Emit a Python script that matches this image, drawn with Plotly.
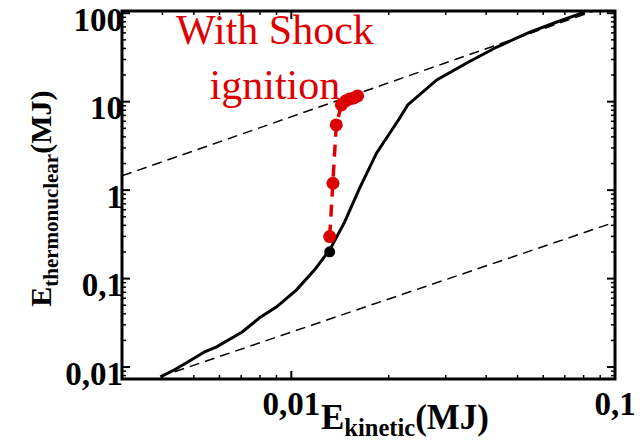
import plotly.graph_objects as go

# ---- data (MJ) ----
e_kin_curve = [0.00394, 0.00436, 0.00492, 0.00540, 0.00588, 0.00707, 0.00798, 0.00901,
               0.01038, 0.01180, 0.01314, 0.01462, 0.01627, 0.01835, 0.02163, 0.02289,
               0.02814, 0.03484, 0.04315, 0.05458, 0.06615, 0.08075]
e_th_curve = [0.00776, 0.00931, 0.01208, 0.01489, 0.01695, 0.02506, 0.03607, 0.04799,
              0.07464, 0.1256, 0.2113, 0.4377, 1.060, 2.634, 6.544, 9.18,
              17.59, 27.36, 41.48, 61.28, 79.5, 103.1]

no_shock_x = [0.01314]
no_shock_y = [0.2006]

shock_x = [0.01314, 0.01345, 0.01377, 0.01428, 0.01472, 0.01515, 0.01559, 0.01603]
shock_y = [0.2987, 1.197, 5.455, 9.18, 10.18, 10.73, 11.01, 11.6]

upper_guide_x = [0.003, 0.1]
upper_guide_y = [1.45, 128.0]
lower_guide_x = [0.00436, 0.1]
lower_guide_y = [0.00885, 0.435]

x_tick_vals = [0.01, 0.1]
x_tick_text = ["0,01", "0,1"]
y_tick_vals = [0.01, 0.1, 1, 10, 100]
y_tick_text = ["0,01", "0,1", "1", "10", "100"]
x_minor_vals = [0.003, 0.004, 0.005, 0.006, 0.007, 0.008, 0.009,
                0.02, 0.03, 0.04, 0.05, 0.06, 0.07, 0.08, 0.09]
y_minor_vals = [0.008, 0.009,
                0.02, 0.03, 0.04, 0.05, 0.06, 0.07, 0.08, 0.09,
                0.2, 0.3, 0.4, 0.5, 0.6, 0.7, 0.8, 0.9,
                2, 3, 4, 5, 6, 7, 8, 9,
                20, 30, 40, 50, 60, 70, 80, 90]

RED = "#dd0000"
W, H = 643, 444
M = dict(l=122, r=28, t=11, b=65)
PLOT_W = W - M["l"] - M["r"]
PLOT_H = H - M["t"] - M["b"]

fig = go.Figure()
fig.add_trace(go.Scatter(x=upper_guide_x, y=upper_guide_y, mode="lines",
                         line=dict(color="black", width=1.5, dash="10px,6px")))
fig.add_trace(go.Scatter(x=lower_guide_x, y=lower_guide_y, mode="lines",
                         line=dict(color="black", width=1.5, dash="10px,6px")))
fig.add_trace(go.Scatter(x=e_kin_curve, y=e_th_curve, mode="lines",
                         line=dict(color="black", width=3)))
fig.add_trace(go.Scatter(x=no_shock_x, y=no_shock_y, mode="markers",
                         marker=dict(color="black", size=11)))
fig.add_trace(go.Scatter(x=shock_x, y=shock_y, mode="lines+markers",
                         line=dict(color=RED, width=3.5, dash="12px,8px"),
                         marker=dict(color=RED, size=13)))

axis_common = dict(
    type="log", showline=False, ticks="", showgrid=False, zeroline=False,
    ticklabeloverflow="allow", automargin=False, tickmode="array",
    tickfont=dict(family="Liberation Serif", size=33, color="black", weight="bold"),
)

fig.update_layout(
    width=W, height=H, margin=M,
    paper_bgcolor="white", plot_bgcolor="white", showlegend=False,
    xaxis=dict(**axis_common, range=[-2.523, -1.0],
               tickvals=x_tick_vals, ticktext=x_tick_text, ticklabelstandoff=2),
    yaxis=dict(**axis_common, range=[-2.135, 2.025],
               tickvals=y_tick_vals, ticktext=y_tick_text, ticklabelshift=6,
               ticklabelstandoff=-2),
)

# frame and inside ticks on all four sides, placed through the axes' own scales
fig.add_shape(type="rect", xref="paper", yref="paper", x0=0, x1=1, y0=0, y1=1,
              line=dict(color="black", width=3), layer="above")


def add_x_ticks(vals, length_px, width):
    f = length_px / PLOT_H
    for v in vals:
        for y0, y1 in ((0, f), (1 - f, 1)):
            fig.add_shape(type="line", xref="x", yref="paper", x0=v, x1=v, y0=y0, y1=y1,
                          line=dict(color="black", width=width), layer="above")


def add_y_ticks(vals, length_px, width):
    f = length_px / PLOT_W
    for v in vals:
        for x0, x1 in ((0, f), (1 - f, 1)):
            fig.add_shape(type="line", xref="paper", yref="y", x0=x0, x1=x1, y0=v, y1=v,
                          line=dict(color="black", width=width), layer="above")


add_x_ticks(x_tick_vals, 8, 2)
add_x_ticks(x_minor_vals, 4, 1.5)
add_y_ticks(y_tick_vals, 8, 2)
add_y_ticks(y_minor_vals, 4, 1.5)

fig.add_annotation(text="<b>E<sub>kinetic</sub>(MJ)</b>", xref="paper", yref="paper",
                   x=0.575, y=-0.11, xanchor="center", yanchor="middle",
                   showarrow=False,
                   font=dict(family="Liberation Serif", size=35, color="black"))
fig.add_annotation(text="<b>E<sub>thermonuclear</sub>(MJ)</b>", xref="paper", yref="paper",
                   x=-0.16, y=0.49, xanchor="center", yanchor="middle", textangle=-90,
                   showarrow=False,
                   font=dict(family="Liberation Serif", size=30, color="black"))
fig.add_annotation(text="With Shock<br>ignition", xref="paper", yref="paper",
                   x=0.31, y=0.875, xanchor="center", yanchor="middle",
                   showarrow=False,
                   font=dict(family="Liberation Serif", size=42, color=RED))

# page tweak: remove the default body margin so the figure sits at the window's corner
post = """
var st = document.createElement('style');
st.textContent = 'html, body { margin: 0 !important; padding: 0 !important; }';
document.head.appendChild(st);
document.body.style.margin = '0';
"""

fig.write_html("out.html", post_script=post, config={"displayModeBar": False})
